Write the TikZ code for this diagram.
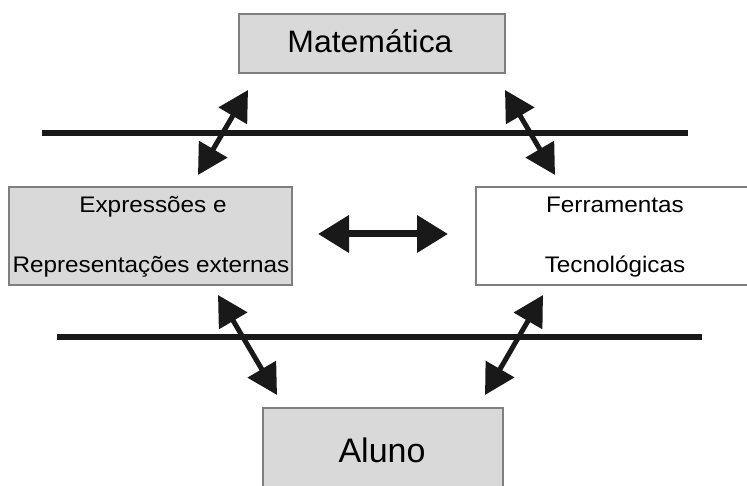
\documentclass[tikz,border=0pt]{standalone}
\usepackage{fontspec}
\setmainfont{Liberation Sans}
\usetikzlibrary{arrows.meta}
\definecolor{boxgray}{HTML}{D9D9D9}
\definecolor{edgegray}{HTML}{7F7F7F}
\tikzset{
  conceptbox/.style={draw=edgegray, line width=1.2pt, inner sep=0pt},
  graybox/.style={conceptbox, fill=boxgray},
  whitebox/.style={conceptbox, fill=white},
  sidetext/.style={anchor=base, inner sep=0pt, font=\fontsize{22.5}{27}\selectfont},
  bigtext/.style={anchor=base, inner sep=0pt},
  barline/.style={line width=6pt, black!90},
  dblarrow/.style={line width=5pt, black!90, {Triangle[length=30pt,width=32pt]}-{Triangle[length=30pt,width=32pt]}},
  bigarrow/.style={line width=7pt, black!90, {Triangle[length=31pt,width=36pt]}-{Triangle[length=31pt,width=36pt]}}
}
\newcommand{\wide}[1]{\scalebox{1.08}[1]{#1}}
\begin{document}
\begin{tikzpicture}[x=1pt,y=1pt]
\useasboundingbox (0,0) rectangle (747,486);
\clip (0,0) rectangle (747,486);
% boxes
\node[graybox, minimum width=266pt, minimum height=59pt] (mat) at (372,442.5) {};
\node[graybox, minimum width=283pt, minimum height=98pt] (expr) at (150.5,250) {};
\node[whitebox, minimum width=278pt, minimum height=98pt] (ferr) at (615,250) {};
\node[graybox, minimum width=240pt, minimum height=100pt] (aluno) at (383,28) {};
% texts
\node[bigtext, font=\fontsize{31}{36}\selectfont] (matt) at (370,433) {\scalebox{1.03}[1]{Matemática}};
\node[sidetext] (expr1) at (153,273) {\wide{Expressões e}};
\node[sidetext] (expr2) at (151,213) {\wide{Representações externas}};
\node[sidetext] (ferr1) at (615,273) {\wide{Ferramentas}};
\node[sidetext] (ferr2) at (615,213) {\wide{Tecnológicas}};
\node[bigtext, font=\fontsize{34}{40}\selectfont] (alunot) at (382,23) {Aluno};
% bars
\coordinate (t1) at (42,353); \coordinate (t2) at (688,353);
\coordinate (b1) at (57,149); \coordinate (b2) at (702,149);
\draw[barline] (t1) -- (t2);
\draw[barline] (b1) -- (b2);
% arrow end points
\coordinate (tla) at (248,396); \coordinate (tlb) at (198,311);
\coordinate (tra) at (505,396); \coordinate (trb) at (555,311);
\coordinate (bla) at (218,191); \coordinate (blb) at (277,91);
\coordinate (bra) at (543,191); \coordinate (brb) at (485,91);
\coordinate (hla) at (318,252); \coordinate (hlb) at (448,252);
\draw[dblarrow] (tla) -- (tlb);
\draw[dblarrow] (tra) -- (trb);
\draw[dblarrow] (bla) -- (blb);
\draw[dblarrow] (bra) -- (brb);
\draw[bigarrow] (hla) -- (hlb);
\end{tikzpicture}
\end{document}
